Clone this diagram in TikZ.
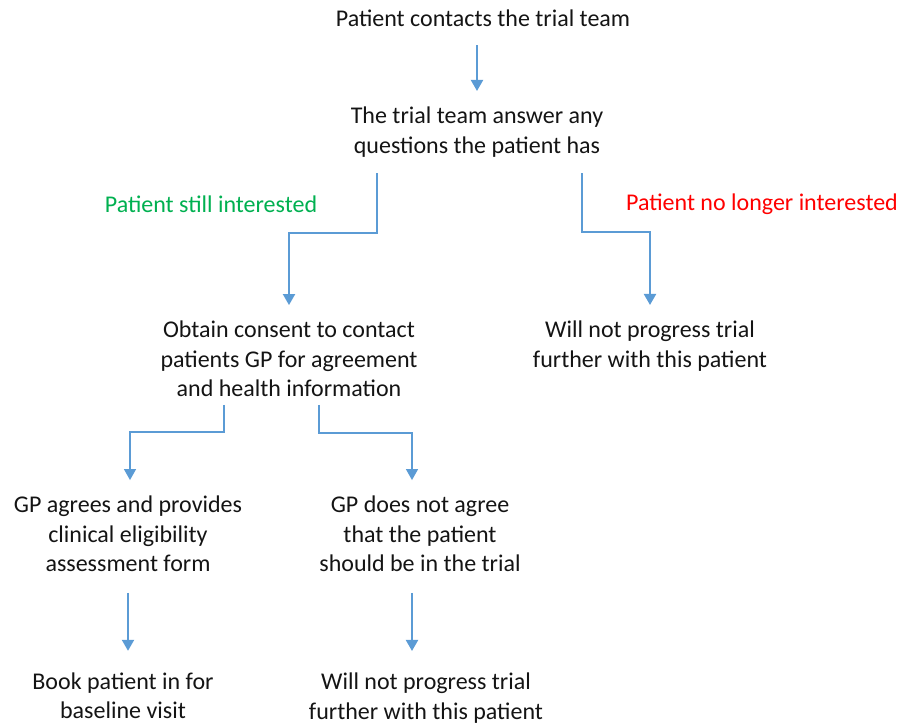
\documentclass[tikz,border=0pt]{standalone}
\usepackage{fontspec}
\setmainfont{Carlito}
\usetikzlibrary{arrows.meta}
\definecolor{flowblue}{HTML}{5B9BD5}
\definecolor{yesgreen}{HTML}{00B050}
\definecolor{nored}{HTML}{FF0000}
\definecolor{txtgray}{HTML}{141414}

\begin{document}
\begin{tikzpicture}[x=1pt,y=-1pt,
    stage/.style={align=center, inner sep=0pt, outer sep=16pt, text=txtgray, font=\fontsize{24}{29.5}\selectfont},
    answer/.style={stage, outer sep=0pt},
    flow/.style={flowblue, line width=2pt, -{Triangle[width=12pt,length=11pt]}},
    thinflow/.style={flow, line width=1.3pt}]
            \useasboundingbox (0,0) rectangle (911,727);
            \node[stage] (contact) at (483,18) {Patient contacts the trial team};
            \node[stage] (questions) at (477,132) {The trial team answer any\\questions the patient has};
            \node[answer, text=yesgreen] (still) at (211,204) {Patient still interested};
            \node[answer, text=nored] (nolonger) at (762,204) {Patient no longer interested};
            \node[stage] (consent) at (289,359) {Obtain consent to contact\\patients GP for agreement\\and health information};
            \node[stage] (stop1) at (650,346) {Will not progress trial\\further with this patient};
            \node[stage] (gpyes) at (128,534) {GP agrees and provides\\clinical eligibility\\assessment form};
            \node[stage] (gpno) at (420,534) {GP does not agree\\that the patient\\should be in the trial};
            \node[stage] (book) at (123,696) {Book patient in for\\baseline visit};
            \node[stage] (stop2) at (426,698) {Will not progress trial\\further with this patient};
            \draw[flow, shorten <=3pt] (contact.south -| questions.north) -- (questions.north);
            \draw[flow] ([xshift=-100pt]questions.south) -- ++(0,60) -| (consent.north);
            \draw[flow] ([xshift=105pt]questions.south) -- ++(0,59) -| (stop1.north);
            \draw[thinflow] ([xshift=-65pt,yshift=8pt]consent.south) -- ++(0,27) -| ([xshift=2pt]gpyes.north);
            \draw[thinflow] ([xshift=30pt,yshift=8pt]consent.south) -- ++(0,28) -| ([xshift=-8pt]gpno.north);
            \draw[flow, shorten <=5pt, shorten >=6pt] (gpyes.south) -- (gpyes.south |- book.north);
            \draw[flow, shorten <=5pt, shorten >=6pt] ([xshift=-8pt]gpno.south) -- ([xshift=-8pt]gpno.south |- stop2.north);
        \end{tikzpicture}
\end{document}
